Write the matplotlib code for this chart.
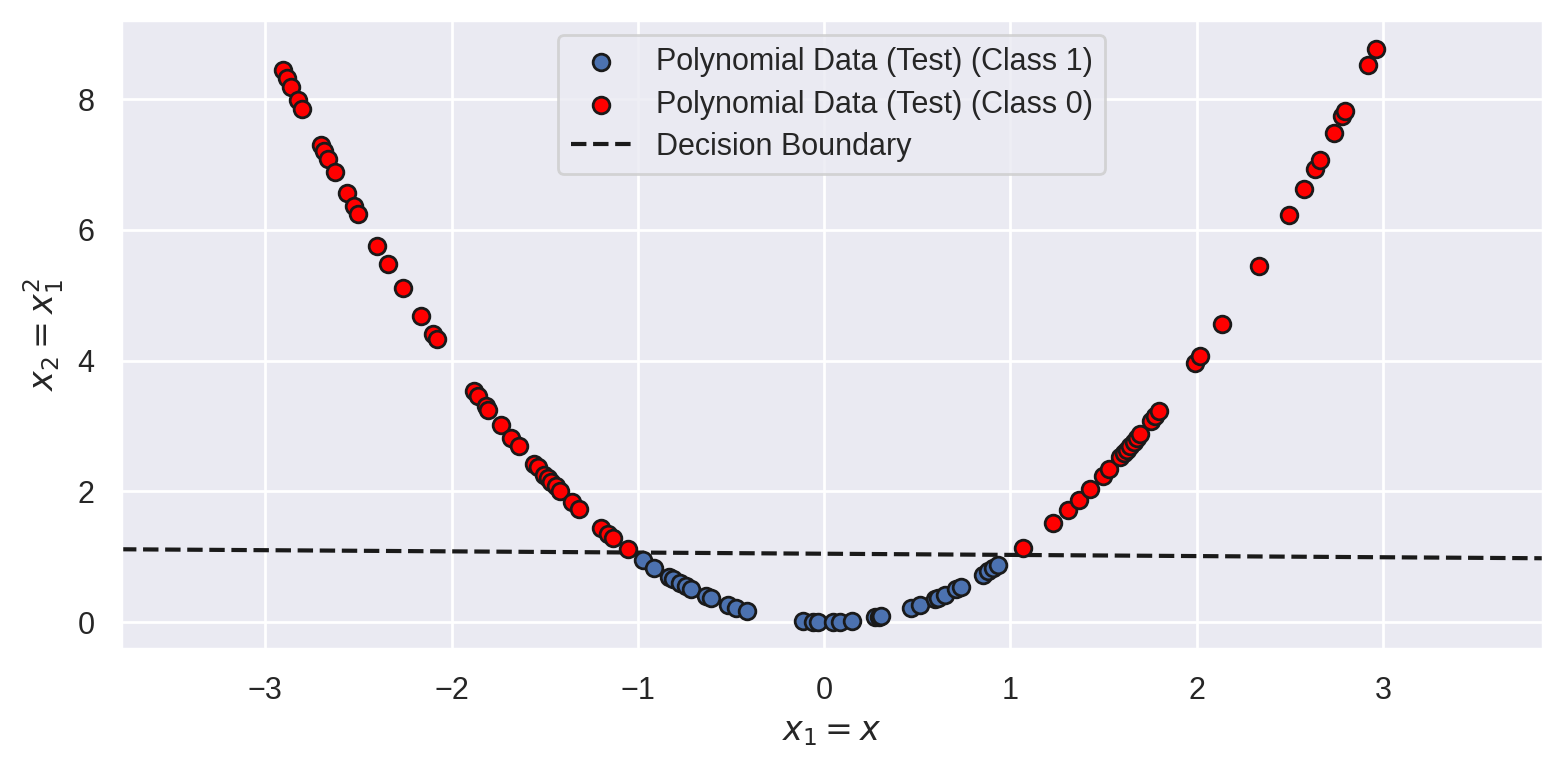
import numpy as np
import matplotlib
matplotlib.use("Agg")
import matplotlib.pyplot as plt
import seaborn as sns

# x1 values of the test points (x2 = x1**2 is the feature map)
x1_class0_left = [-2.905, -2.884, -2.862, -2.825, -2.801, -2.701, -2.683, -2.661,
                  -2.625, -2.561, -2.522, -2.500, -2.398, -2.339, -2.260, -2.163,
                  -2.098, -2.081, -1.880, -1.858, -1.817, -1.803, -1.737, -1.679,
                  -1.641, -1.557, -1.539, -1.503, -1.485, -1.464, -1.441, -1.417,
                  -1.355, -1.315, -1.199, -1.159, -1.136, -1.055]
x1_class0_right = [1.069, 1.230, 1.311, 1.370, 1.428, 1.496, 1.530, 1.589, 1.607,
                   1.625, 1.643, 1.661, 1.680, 1.697, 1.756, 1.777, 1.799, 1.992,
                   2.019, 2.136, 2.333, 2.494, 2.575, 2.634, 2.659, 2.736, 2.781,
                   2.795, 2.919, 2.960]
x1_class1 = [-0.974, -0.912, -0.831, -0.813, -0.772, -0.742, -0.715, -0.634,
             -0.610, -0.517, -0.473, -0.414, -0.114, -0.060, -0.033, 0.048,
             0.083, 0.150, 0.275, 0.293, 0.307, 0.468, 0.514, 0.594, 0.612,
             0.651, 0.710, 0.734, 0.854, 0.881, 0.908, 0.935]

# decision boundary  x2 = b0 + b1 * x1
b0 = 1.048
b1 = -0.018

x_limits = (-3.775, 3.857)
y_limits = (-0.413, 9.21)

sns.set_theme(style="darkgrid")
plt.rcParams['font.family'] = ['Liberation Sans', 'DejaVu Sans']

x1_c0 = np.array(x1_class0_left + x1_class0_right)
x1_c1 = np.array(x1_class1)

fig = plt.figure(figsize=(7.815, 3.835), dpi=200)
ax = fig.add_axes([0.0774, 0.1535, 0.9096, 0.8205])

ax.scatter(x1_c1, x1_c1 ** 2, color='#4C72B0', edgecolor='#1a1a1a', linewidth=1,
           s=36, label='Polynomial Data (Test) (Class 1)', zorder=3)
ax.scatter(x1_c0, x1_c0 ** 2, color='red', edgecolor='#1a1a1a', linewidth=1,
           s=36, label='Polynomial Data (Test) (Class 0)', zorder=3)

xb = np.array(x_limits)
ax.plot(xb, b0 + b1 * xb, 'k--', linewidth=1.5, label='Decision Boundary')

ax.set_xlim(*x_limits)
ax.set_ylim(*y_limits)
ax.set_xlabel(r'$x_1 = x$')
ax.set_ylabel(r'$x_2 = x_1^2$')
ax.legend(loc='upper center', labelspacing=0.4)

fig.savefig('out.png', dpi=200)
